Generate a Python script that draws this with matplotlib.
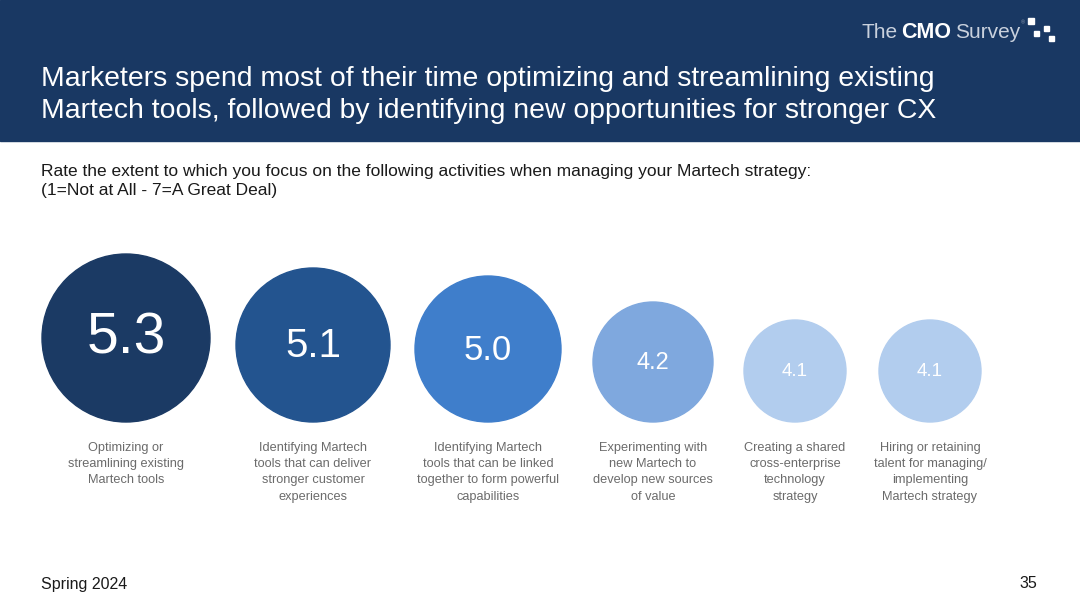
import matplotlib
matplotlib.use("Agg")
import matplotlib.pyplot as plt
from matplotlib.patches import Circle, Rectangle

plt.rcParams['font.family'] = ['Liberation Sans', 'DejaVu Sans']

# ---- data ----
activities = [
    "Optimizing or\nstreamlining existing\nMartech tools",
    "Identifying Martech\ntools that can deliver\nstronger customer\nexperiences",
    "Identifying Martech\ntools that can be linked\ntogether to form powerful\ncapabilities",
    "Experimenting with\nnew Martech to\ndevelop new sources\nof value",
    "Creating a shared\ncross-enterprise\ntechnology\nstrategy",
    "Hiring or retaining\ntalent for managing/\nimplementing\nMartech strategy",
]
scores = [5.3, 5.1, 5.0, 4.2, 4.1, 4.1]

title = ("Marketers spend most of their time optimizing and streamlining existing\n"
         "Martech tools, followed by identifying new opportunities for stronger CX")
subtitle = ("Rate the extent to which you focus on the following activities when managing your Martech strategy:\n"
            "(1=Not at All - 7=A Great Deal)")
footer_left = "Spring 2024"
page_no = "35"
logo_parts = ["The", "CMO", "Survey"]

# ---- layout / style ----
W, H = 1080, 608
centers_x = [126, 313, 488, 653, 795, 930]
radii = [84, 77, 73, 60, 51, 51]
num_sizes = [41, 29, 25, 17, 13.5, 13.5]
colors = ["#1b3a64", "#23548f", "#3f7ecb", "#7fa8de", "#b2cdee", "#b2cdee"]
base_y = 422
banner = "#193863"

fig = plt.figure(figsize=(W / 100, H / 100), dpi=100)
ax = fig.add_axes([0, 0, 1, 1])
ax.set_xlim(0, W)
ax.set_ylim(H, 0)
ax.set_aspect('equal')
ax.axis('off')

# banner
ax.add_patch(Rectangle((0, 0), W, 141, color=banner, zorder=0))
ax.text(41, 95, title, color="white", fontsize=20.4, va="center", ha="left",
        linespacing=1.28)

# logo
ax.text(862, 33, logo_parts[0], color="#c9d1dd", fontsize=15, va="center", ha="left")
ax.text(901, 33, logo_parts[1], color="white", fontsize=15.5, fontweight="bold",
        va="center", ha="left")
ax.text(955, 33, logo_parts[2], color="#c9d1dd", fontsize=15, va="center", ha="left")
ax.text(1021, 23, "®", color="#8c9ab0", fontsize=4, va="center", ha="left")
for (sx, sy, s) in [(1031, 21, 6), (1046, 28, 5), (1036, 33, 5), (1051, 38, 5)]:
    ax.add_patch(Rectangle((sx - s / 2, sy - s / 2), s, s, color="white", zorder=2))

# subtitle
ax.text(41, 181, subtitle, color="#1a1a1a", fontsize=12.5, va="center", ha="left",
        linespacing=1.35)

# circles
for cx, r, v, c, fs, lab in zip(centers_x, radii, scores, colors, num_sizes, activities):
    cy = base_y - r
    ax.add_patch(Circle((cx, cy), r, color=c, zorder=1))
    ax.text(cx, cy + 1, f"{v:.1f}", color="white", fontsize=fs, ha="center", va="center",
            zorder=3)
    ax.text(cx, 442, lab, color="#6b6b6b", fontsize=9.2, ha="center", va="top",
            linespacing=1.47)

# footer
ax.text(41, 584, footer_left, color="#1a1a1a", fontsize=11.5, ha="left", va="center")
ax.text(1037, 584, page_no, color="#1a1a1a", fontsize=11.5, ha="right", va="center")

fig.savefig("out.png", dpi=100)
